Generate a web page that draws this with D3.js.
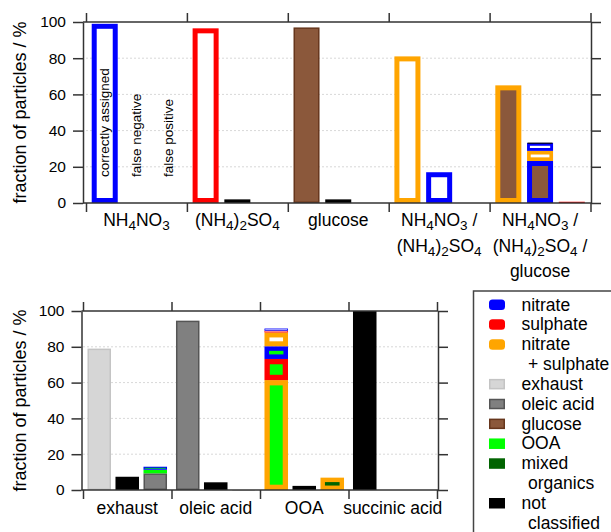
<!DOCTYPE html>
<html>
<head>
<meta charset="utf-8">
<script src="https://cdn.jsdelivr.net/npm/d3@7"></script>
<style>
  body { margin: 0; background: #fff; }
  text { font-family: "Liberation Sans", Arial, sans-serif; fill: #000; }
</style>
</head>
<body>
<script>
// Stage
let width = 611;
let height = 532;

let svg = d3.select("body")
  .append("svg")
  .attr("width", width)
  .attr("height", height);

// ---- Data ----
// each bar is a stack of segments: [ion class (outline), organic class (fill), value %]
const slots = ["correctly assigned", "false negative", "false positive"];
const yTicks = [0, 20, 40, 60, 80, 100];

const topCategories = ["NH_4NO_3", "(NH_4)_2SO_4", "glucose", "NH_4NO_3 /|(NH_4)_2SO_4", "NH_4NO_3 /|(NH_4)_2SO_4 /|glucose"];
const topCorrect = [
  [["nitrate", null, 99]],
  [["sulphate", null, 96.5]],
  [[null, "glucose", 97]],
  [["nitrate + sulphate", null, 81]],
  [["nitrate + sulphate", "glucose", 65]]
];
const topFalseNegative = [
  [],
  [[null, "not classified", 2]],
  [[null, "not classified", 2]],
  [["nitrate", null, 17]],
  [["nitrate", "glucose", 23.2], ["nitrate + sulphate", null, 5.6], ["nitrate", null, 4.4], [null, "not classified", 0.4]]
];
const topFalsePositive = [
  [],
  [],
  [],
  [],
  [["sulphate", null, 0.7]]
];

const bottomCategories = ["exhaust", "oleic acid", "OOA", "succinic acid"];
const bottomCorrect = [
  [[null, "exhaust", 79]],
  [[null, "oleic acid", 94.6]],
  [["nitrate + sulphate", "OOA", 61.4], ["sulphate", "OOA", 11.8], ["nitrate", "OOA", 7.1],
   ["nitrate + sulphate", null, 7.7], ["sulphate", null, 1.0], ["nitrate", null, 1.2]],
  [[null, "not classified", 100]]
];
const bottomFalseNegative = [
  [[null, "not classified", 7.4]],
  [[null, "not classified", 4.3]],
  [[null, "not classified", 2.3]],
  []
];
const bottomFalsePositive = [
  [[null, "oleic acid", 9.3], [null, "OOA", 2.0], ["nitrate", "OOA", 1.7]],
  [[null, "exhaust", 0.3]],
  [["nitrate + sulphate", "mixed organics", 6.9]],
  []
];

const legendItems = ["nitrate", "sulphate", "nitrate + sulphate", "exhaust", "oleic acid", "glucose", "OOA", "mixed organics", "not classified"];
const legendLines = [["nitrate"], ["sulphate"], ["nitrate", "+ sulphate"], ["exhaust"], ["oleic acid"], ["glucose"], ["OOA"], ["mixed", "organics"], ["not", "classified"]];

// ---- Colour palette ----
const ionColor = {
  "nitrate": "#0000ff",
  "sulphate": "#ff0000",
  "nitrate + sulphate": "#ffa500"
};
const organicColor = {
  "exhaust": "#d6d6d6",
  "oleic acid": "#808080",
  "glucose": "#8b583b",
  "OOA": "#00ff00",
  "mixed organics": "#006400",
  "not classified": "#000000"
};
const organicEdge = {
  "exhaust": "#c4c4c4",
  "oleic acid": "#555555",
  "glucose": "#66361c",
  "OOA": "#00ff00",
  "mixed organics": "#006400",
  "not classified": "#000000"
};
const axisColor = "#333333";
const gridColor = "#d8d8d8";
const font = "\"Liberation Sans\", Arial, sans-serif";

// write chemical formulae with subscripts: "_4" -> subscript 4
function addFormula(textSel, str) {
  let parts = str.split(/(_\d)/).filter(s => s.length);
  let sub = false;
  parts.forEach(p => {
    if (p[0] === "_") {
      textSel.append("tspan").attr("font-size", 13.5).attr("dy", 4).text(p.slice(1));
      sub = true;
    } else {
      textSel.append("tspan").attr("dy", sub ? -4 : 0).text(p);
      sub = false;
    }
  });
}

function drawPanel(opt) {
  let g = svg.append("g");

  let y = d3.scaleLinear().domain([0, 100]).range([opt.yBottom, opt.yTop]);
  let xCat = d3.scaleBand().domain(opt.categories).range([opt.x0, opt.x1]).padding(0);
  let xSlot = d3.scaleBand().domain(slots).range([0, xCat.bandwidth()])
    .paddingInner(opt.pad).paddingOuter(opt.pad);
  let xEdge = d3.scaleLinear().domain([0, opt.categories.length]).range([opt.x0, opt.x1]);

  // grid
  g.append("g").selectAll("line")
    .data(yTicks.filter(d => d > 0 && d < 100))
    .enter().append("line")
    .attr("x1", opt.x0).attr("x2", opt.rightX)
    .attr("y1", d => y(d)).attr("y2", d => y(d))
    .attr("stroke", gridColor).attr("stroke-width", 1)
    .attr("stroke-dasharray", "2,2");

  // bars
  let series = opt.series;
  opt.categories.forEach((cat, i) => {
    slots.forEach((slot, j) => {
      let base = 0;
      let bx = xCat(cat) + xSlot(slot);
      let bw = xSlot.bandwidth();
      series[j][i].forEach(seg => {
        let [ion, org, v] = seg;
        let top = y(base + v), bot = y(base);
        let h = bot - top;
        base += v;
        if (ion) {
          g.append("rect")
            .attr("x", bx).attr("y", top).attr("width", bw).attr("height", h)
            .attr("fill", ionColor[ion]);
          let inset = Math.min(opt.sw, h * 0.36);
          if (h - 2 * inset > 0.4) {
            g.append("rect")
              .attr("x", bx + inset).attr("y", top + inset)
              .attr("width", bw - 2 * inset).attr("height", h - 2 * inset)
              .attr("fill", org ? organicColor[org] : "#ffffff");
          }
        } else {
          g.append("rect")
            .attr("x", bx + 0.75).attr("y", top + 0.75)
            .attr("width", bw - 1.5).attr("height", Math.max(h - 1.5, 0.5))
            .attr("fill", organicColor[org])
            .attr("stroke", organicEdge[org])
            .attr("stroke-width", h > 2 ? 1.5 : 0.5);
        }
      });
    });
  });

  // axes
  let left = g.append("g")
    .attr("transform", `translate(${opt.axisX},0)`)
    .call(d3.axisLeft(y).tickValues(yTicks).tickSize(10).tickSizeOuter(0).tickPadding(7));
  let right = g.append("g")
    .attr("transform", `translate(${opt.rightX},0)`)
    .call(d3.axisRight(y).tickValues(yTicks).tickSize(10).tickSizeOuter(0).tickFormat(""));
  let bottom = g.append("g")
    .attr("transform", `translate(0,${opt.yBottom})`)
    .call(d3.axisBottom(xEdge).ticks(opt.categories.length).tickSize(9).tickSizeOuter(0).tickFormat(""));
  let topAx = g.append("g")
    .attr("transform", `translate(0,${opt.yTop})`)
    .call(d3.axisTop(xEdge).ticks(opt.categories.length).tickSize(9).tickSizeOuter(0).tickFormat(""));

  [left, right, bottom, topAx].forEach(a => {
    a.selectAll("path, line").attr("stroke", axisColor).attr("stroke-width", 1.5);
    a.selectAll("text").attr("font-family", font).attr("font-size", 15.5).attr("fill", "#000");
  });
  // extend horizontal frame lines to the offset left axis
  bottom.select(".domain").attr("d", `M${opt.axisX},0H${opt.rightX}`);
  topAx.select(".domain").attr("d", `M${opt.axisX},0H${opt.rightX}`);

  // y label
  g.append("text")
    .attr("transform", `translate(20,${(opt.yTop + opt.yBottom) / 2}) rotate(-90)`)
    .attr("text-anchor", "middle")
    .attr("dominant-baseline", "central")
    .attr("font-size", 18)
    .text("fraction of particles / %");

  // category labels
  opt.categories.forEach(cat => {
    cat.split("|").forEach((line, k) => {
      let t = g.append("text")
        .attr("x", xCat(cat) + xCat.bandwidth() / 2)
        .attr("y", opt.labelY + k * 25.5)
        .attr("text-anchor", "middle")
        .attr("font-size", 17.5);
      addFormula(t, line);
    });
  });

  return { xCat, xSlot, y };
}

// top panel
let topPanel = drawPanel({
  categories: topCategories,
  series: [topCorrect, topFalseNegative, topFalsePositive],
  x0: 86, x1: 590.5, axisX: 83, rightX: 591,
  yTop: 22, yBottom: 203,
  pad: 0.18, sw: 5, labelY: 226
});

// slot annotations inside the first top category
slots.forEach(slot => {
  let cx = topPanel.xCat(topCategories[0]) + topPanel.xSlot(slot) + topPanel.xSlot.bandwidth() / 2;
  svg.append("text")
    .attr("transform", `translate(${cx},177) rotate(-90)`)
    .attr("dominant-baseline", "central")
    .attr("font-size", 13.5)
    .text(slot);
});

// bottom panel
drawPanel({
  categories: bottomCategories,
  series: [bottomCorrect, bottomFalseNegative, bottomFalsePositive],
  x0: 83, x1: 437, axisX: 81.5, rightX: 438,
  yTop: 311, yBottom: 490,
  pad: 0.16, sw: 5.3, labelY: 514
});

// legend
let legend = svg.append("g");
legend.append("rect")
  .attr("x", 473.5).attr("y", 291)
  .attr("width", 200).attr("height", 300)
  .attr("fill", "#fff")
  .attr("stroke", "#444").attr("stroke-width", 1.5);

let row = 0;
legendItems.forEach((item, i) => {
  let base = 310.5 + row * 19.85;
  if (ionColor[item]) {
    legend.append("rect")
      .attr("x", 489).attr("y", base - 11).attr("width", 16).attr("height", 10.5)
      .attr("rx", 3.5)
      .attr("fill", ionColor[item]);
  } else {
    legend.append("rect")
      .attr("x", 489.75).attr("y", base - 10.25).attr("width", 14.5).attr("height", 9)
      .attr("fill", organicColor[item])
      .attr("stroke", organicEdge[item]).attr("stroke-width", 1.5);
  }
  legendLines[i].forEach((ln, k) => {
    legend.append("text")
      .attr("x", k === 0 ? 521.5 : 528)
      .attr("y", base + k * 19.85)
      .attr("font-size", 17.5)
      .text(ln);
  });
  row += legendLines[i].length;
});
</script>
</body>
</html>
